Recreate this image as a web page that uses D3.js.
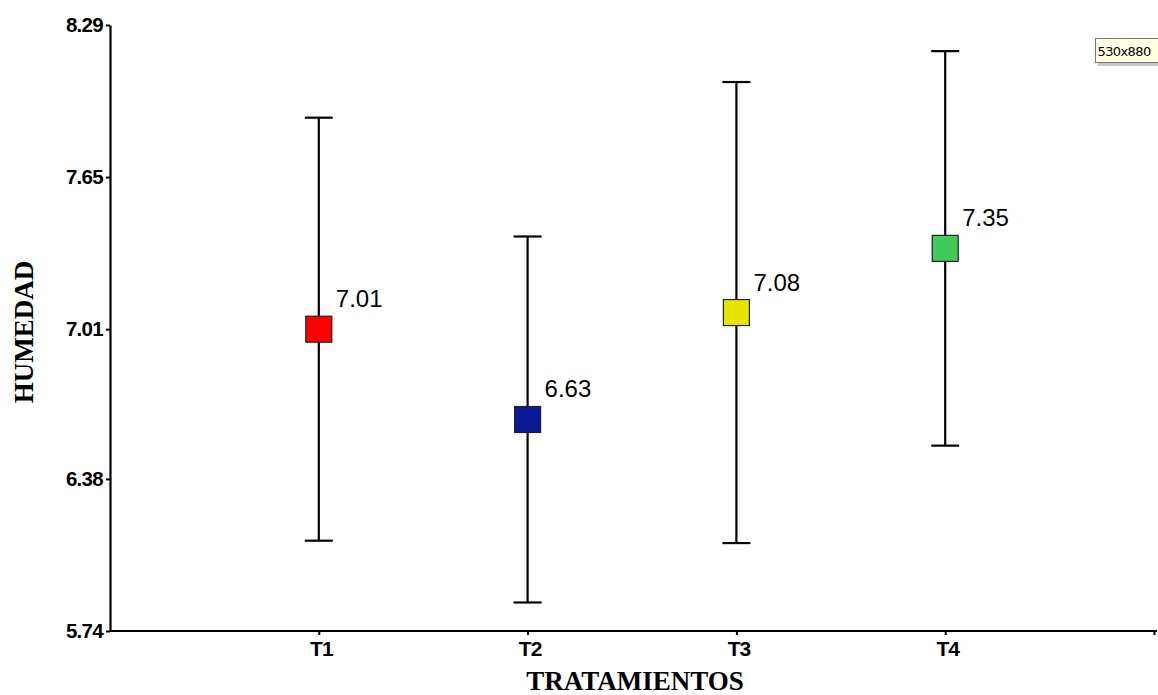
<!DOCTYPE html>
<html>
<head>
<meta charset="utf-8">
<script src="https://cdn.jsdelivr.net/npm/d3@7"></script>
<style>
  html, body { margin: 0; padding: 0; background: #fff; }
  svg { display: block; }
</style>
</head>
<body>
<svg id="chart" width="1158" height="695"></svg>
<script>
// Treatment means with their error half-widths
const categories = ["T1", "T2", "T3", "T4"];
const means = [7.01, 6.63, 7.08, 7.35];
const errors = [0.89, 0.77, 0.97, 0.83];
const colors = ["#ff0000", "#0a1896", "#e6e600", "#3fca5a"];
const yTicks = [5.74, 6.38, 7.01, 7.65, 8.29];

const svg = d3.select("#chart");

const x = d3.scalePoint()
  .domain(["", ...categories, " "])
  .range([110, 1154]);

const y = d3.scaleLinear()
  .domain([5.74, 8.29])
  .range([631, 25]);

// Y axis
const yAxis = svg.append("g")
  .attr("transform", "translate(110,0)")
  .call(d3.axisLeft(y).tickValues(yTicks).tickFormat(d3.format(".2f")).tickSize(4).tickSizeOuter(0));
yAxis.select(".domain").attr("stroke", "#000").attr("stroke-width", 2.2);
yAxis.selectAll(".tick line").attr("stroke", "#000").attr("stroke-width", 2);
yAxis.selectAll(".tick text")
  .attr("x", -7)
  .attr("fill", "#000")
  .style("font-family", "Arial, 'Liberation Sans', sans-serif")
  .style("font-weight", "bold")
  .style("font-size", "20.5px")
  .style("letter-spacing", "-0.7px");

// X axis
const xAxis = svg.append("g")
  .attr("transform", "translate(0,631)")
  .call(d3.axisBottom(x).tickSize(4).tickSizeOuter(0));
xAxis.select(".domain").attr("stroke", "#000").attr("stroke-width", 2.2)
  .attr("d", `M${x("")},0H1157`);
xAxis.selectAll(".tick").filter(d => d === "").remove();
xAxis.selectAll(".tick line").attr("stroke", "#000").attr("stroke-width", 2);
xAxis.selectAll(".tick text")
  .attr("y", 10)
  .attr("dx", 2)
  .attr("fill", "#000")
  .style("font-family", "Arial, 'Liberation Sans', sans-serif")
  .style("font-weight", "bold")
  .style("font-size", "21px")
  .style("letter-spacing", "-1px");

// Axis titles
svg.append("text")
  .attr("x", 635)
  .attr("y", 690)
  .attr("text-anchor", "middle")
  .style("font-family", "'Times New Roman', 'Liberation Serif', serif")
  .style("font-weight", "bold")
  .style("font-size", "27px")
  .text("TRATAMIENTOS");

svg.append("text")
  .attr("transform", "translate(33,332) rotate(-90)")
  .attr("text-anchor", "middle")
  .style("font-family", "'Times New Roman', 'Liberation Serif', serif")
  .style("font-weight", "bold")
  .style("font-size", "27px")
  .text("HUMEDAD");

const data = categories.map((c, i) => ({ c, m: means[i], e: errors[i], col: colors[i] }));

// Error bars
const bars = svg.append("g").selectAll("g").data(data).join("g");
bars.append("line")
  .attr("x1", d => x(d.c)).attr("x2", d => x(d.c))
  .attr("y1", d => y(d.m + d.e)).attr("y2", d => y(d.m - d.e))
  .attr("stroke", "#000").attr("stroke-width", 2.2);
bars.selectAll("line.cap")
  .data(d => [{ c: d.c, v: d.m + d.e }, { c: d.c, v: d.m - d.e }])
  .join("line")
  .attr("class", "cap")
  .attr("x1", d => x(d.c) - 14).attr("x2", d => x(d.c) + 14)
  .attr("y1", d => y(d.v)).attr("y2", d => y(d.v))
  .attr("stroke", "#000").attr("stroke-width", 2.2);

// Mean markers
const size = 26;
svg.append("g").selectAll("rect").data(data).join("rect")
  .attr("x", d => x(d.c) - size / 2)
  .attr("y", d => y(d.m) - size / 2)
  .attr("width", size).attr("height", size)
  .attr("fill", d => d.col)
  .attr("stroke", "#222").attr("stroke-width", 1.2);

// Value labels
svg.append("g").selectAll("text").data(data).join("text")
  .attr("x", d => x(d.c) + 17)
  .attr("y", d => y(d.m) - 22)
  .style("font-family", "Arial, 'Liberation Sans', sans-serif")
  .style("font-size", "24px")
  .attr("fill", "#000")
  .text(d => d.m.toFixed(2));

// Size hint box at the top right
const tip = svg.append("g");
tip.append("rect").attr("x", 1098).attr("y", 41).attr("width", 66).attr("height", 25).attr("fill", "#c8c8c8");
tip.append("rect").attr("x", 1095.5).attr("y", 38.5).attr("width", 66).attr("height", 24)
  .attr("fill", "#ffffe1").attr("stroke", "#767676").attr("stroke-width", 1);
tip.append("text").attr("x", 1097.5).attr("y", 55.5)
  .style("font-family", "'DejaVu Sans', sans-serif")
  .style("font-size", "13px")
  .style("letter-spacing", "-0.6px")
  .attr("fill", "#000")
  .text("530x880");
</script>
</body>
</html>
